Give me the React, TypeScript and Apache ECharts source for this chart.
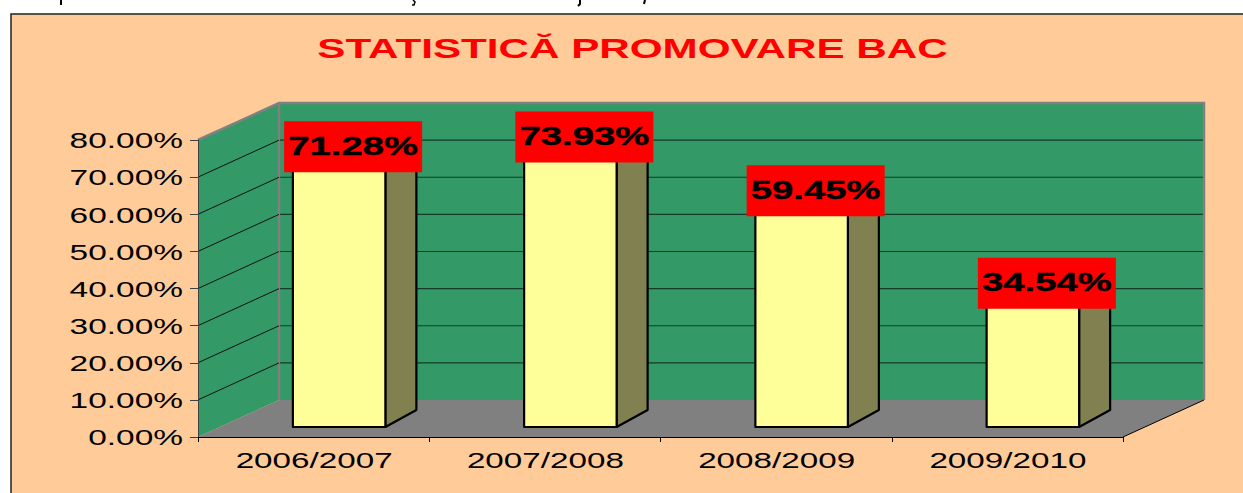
import React, { useEffect, useRef } from "react";
import * as echarts from "echarts";

const titleText = "STATISTICĂ PROMOVARE BAC";
const categories = ["2006/2007", "2007/2008", "2008/2009", "2009/2010"];
const values = [71.28, 73.93, 59.45, 34.54];
const yTicks = [0, 10, 20, 30, 40, 50, 60, 70, 80];

const FONT = '"Liberation Sans", Arial, sans-serif';
const DX = 81;
const DY = -37;
const BAR_DX = 25.5;
const BAR_DY = -10;
const BAR_W = 92.5;
const SIDE_DX = 31;
const SIDE_DY = -17;

function pct(v: number) {
  return v.toFixed(2) + "%";
}

// The cut-off descenders of the line of page text above the chart.
const scrap = (points: number[][], lineWidth: number) => ({
  type: "polyline",
  shape: { points },
  style: { fill: "none", stroke: "#000", lineWidth },
});

export default function App() {
  const ref = useRef<HTMLDivElement>(null);
  useEffect(() => {
    document.body.style.margin = "0";
    document.body.style.background = "#fff";
    const chart = echarts.init(ref.current!, undefined, { renderer: "svg" });
    chart.setOption({
      animation: false,
      tooltip: { show: false },
      grid: { left: 198, right: 120, top: 140, bottom: 56 },
      xAxis: {
        type: "category",
        data: categories,
        z: 5,
        axisLine: { lineStyle: { color: "#000", width: 1 } },
        axisTick: { show: true, length: 5, lineStyle: { color: "#000" }, alignWithLabel: false },
        axisLabel: { show: false },
        splitLine: { show: false },
      },
      yAxis: {
        type: "value",
        min: 0,
        max: 80,
        interval: 10,
        z: 5,
        axisLine: { show: true, lineStyle: { color: "#404040", width: 1 } },
        axisTick: { show: true, length: 8, lineStyle: { color: "#404040" } },
        axisLabel: { show: false },
        splitLine: { show: false },
      },
      graphic: [
        {
          type: "rect",
          z: -10,
          shape: { x: 11, y: 14, width: 1400, height: 700 },
          style: { fill: "#FFCC99", stroke: "#222", lineWidth: 1.5 },
        },
        {
          type: "text",
          x: 632.5,
          y: 49,
          scaleX: 1.507,
          style: {
            text: titleText,
            fill: "#FF0000",
            font: `bold 28px ${FONT}`,
            textAlign: "center",
            textVerticalAlign: "middle",
          },
        },
        scrap([[61, 0], [61, 5]], 2),
        scrap([[413, 0], [415, 2], [414, 5], [412, 5]], 1.5),
        scrap([[580, 0], [580, 4], [578, 6]], 2),
        scrap([[645, 0], [644, 4]], 2),
      ],
      series: [
        {
          type: "custom",
          name: "walls",
          coordinateSystem: "cartesian2d",
          z: 1,
          silent: true,
          data: [[0, 0]],
          renderItem: (params: any, api: any) => {
            const c = params.coordSys;
            const xl = c.x, xr = c.x + c.width, yt = c.y, yb = c.y + c.height;
            return {
              type: "group",
              children: [
                { type: "polygon", shape: { points: [[xl + DX, yt + DY], [xr + DX, yt + DY], [xr + DX, yb + DY], [xl + DX, yb + DY]] }, style: { fill: "#339966" } },
                { type: "polygon", shape: { points: [[xl, yb], [xl, yt], [xl + DX, yt + DY], [xl + DX, yb + DY]] }, style: { fill: "#339966" } },
                { type: "polygon", shape: { points: [[xl, yb], [xr, yb], [xr + DX, yb + DY], [xl + DX, yb + DY]] }, style: { fill: "#808080" } },
                { type: "polyline", shape: { points: [[xl, yt], [xl + DX, yt + DY], [xr + DX, yt + DY], [xr + DX, yb + DY]] }, style: { fill: "none", stroke: "#808080", lineWidth: 2.5 } },
                { type: "line", shape: { x1: xl + DX, y1: yt + DY, x2: xl + DX, y2: yb + DY }, style: { stroke: "#808080", lineWidth: 2.5 } },
                { type: "line", shape: { x1: xr, y1: yb, x2: xr + DX, y2: yb + DY }, style: { stroke: "#000", lineWidth: 1 } },
              ],
            };
          },
        },
        {
          type: "custom",
          name: "gridlines",
          coordinateSystem: "cartesian2d",
          z: 2,
          silent: true,
          data: yTicks.filter((v) => v > 0 && v < 80).map((v) => [0, v]),
          renderItem: (params: any, api: any) => {
            const c = params.coordSys;
            const y = api.coord([0, api.value(1)])[1];
            const xl = c.x, xr = c.x + c.width;
            return {
              type: "group",
              children: [
                { type: "line", shape: { x1: xl, y1: y, x2: xl + DX, y2: y + DY }, style: { stroke: "#111", lineWidth: 1 } },
                { type: "line", shape: { x1: xl + DX + 1, y1: y + DY, x2: xr + DX - 1, y2: y + DY }, style: { stroke: "#143d29", lineWidth: 1.2 } },
              ],
            };
          },
        },
        {
          type: "custom",
          name: "bars",
          coordinateSystem: "cartesian2d",
          z: 3,
          silent: true,
          data: values.map((v, i) => [i, v]),
          renderItem: (params: any, api: any) => {
            const base = api.coord([api.value(0), 0]);
            const top = api.coord([api.value(0), api.value(1)]);
            const cx = base[0] + BAR_DX;
            const l = cx - BAR_W / 2, r = cx + BAR_W / 2;
            const b = base[1] + BAR_DY, t = top[1] + BAR_DY;
            const edge = { stroke: "#000", lineWidth: 2.2, lineJoin: "round" };
            return {
              type: "group",
              children: [
                { type: "polygon", shape: { points: [[r, b], [r + SIDE_DX, b + SIDE_DY], [r + SIDE_DX, t + SIDE_DY], [r, t]] }, style: { fill: "#808050", ...edge } },
                { type: "polygon", shape: { points: [[l, t], [l + SIDE_DX, t + SIDE_DY], [r + SIDE_DX, t + SIDE_DY], [r, t]] }, style: { fill: "#FFFFC0", ...edge } },
                { type: "rect", shape: { x: l, y: t, width: BAR_W, height: b - t }, style: { fill: "#FFFF99", ...edge } },
              ],
            };
          },
        },
        {
          type: "custom",
          name: "labels",
          coordinateSystem: "cartesian2d",
          z: 4,
          silent: true,
          data: values.map((v, i) => [i, v]),
          renderItem: (params: any, api: any) => {
            const top = api.coord([api.value(0), api.value(1)]);
            const cx = top[0] + BAR_DX + 14;
            const cy = top[1] + BAR_DY - 15.5;
            return {
              type: "group",
              children: [
                { type: "rect", shape: { x: cx - 69, y: cy - 25.5, width: 138, height: 51 }, style: { fill: "#FF0000" } },
                {
                  type: "text",
                  x: cx,
                  y: cy - 1,
                  scaleX: 1.47,
                  style: {
                    text: pct(api.value(1)),
                    fill: "#000",
                    stroke: "#000",
                    lineWidth: 0.4,
                    font: `bold 26px ${FONT}`,
                    textAlign: "center",
                    textVerticalAlign: "middle",
                  },
                },
              ],
            };
          },
        },
        {
          type: "custom",
          name: "yLabels",
          coordinateSystem: "cartesian2d",
          z: 4,
          silent: true,
          data: yTicks.map((v) => [0, v]),
          renderItem: (params: any, api: any) => {
            const c = params.coordSys;
            const y = api.coord([0, api.value(1)])[1];
            return {
              type: "text",
              x: c.x - 15,
              y: y + 0.5,
              scaleX: 1.52,
              style: {
                text: pct(api.value(1)),
                fill: "#000",
                font: `22px ${FONT}`,
                textAlign: "right",
                textVerticalAlign: "middle",
              },
            };
          },
        },
        {
          type: "custom",
          name: "xLabels",
          coordinateSystem: "cartesian2d",
          z: 4,
          silent: true,
          data: categories.map((_, i) => [i, 0]),
          renderItem: (params: any, api: any) => {
            const p = api.coord([api.value(0), 0]);
            return {
              type: "text",
              x: p[0] + 0.5,
              y: p[1] + 23,
              scaleX: 1.51,
              style: {
                text: categories[api.value(0)],
                fill: "#000",
                font: `22px ${FONT}`,
                textAlign: "center",
                textVerticalAlign: "middle",
              },
            };
          },
        },
      ],
    });
    return () => chart.dispose();
  }, []);
  return <div ref={ref} style={{ width: 1243, height: 493 }} />;
}
